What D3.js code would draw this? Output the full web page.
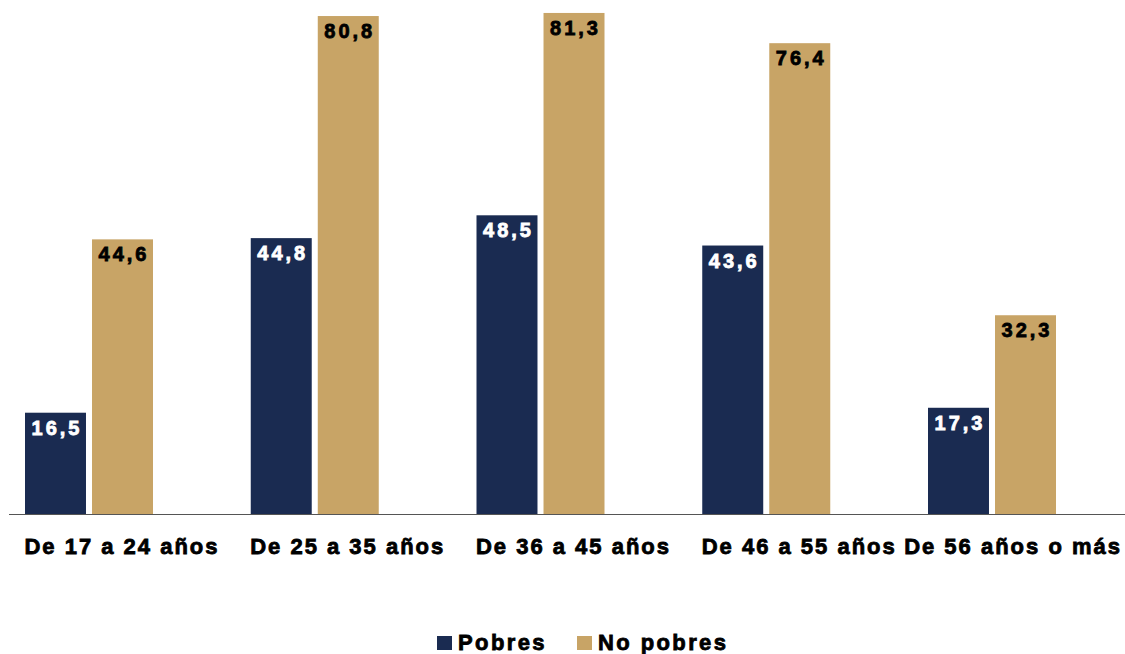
<!DOCTYPE html>
<html>
<head>
<meta charset="utf-8">
<script src="https://cdn.jsdelivr.net/npm/d3@7"></script>
<style>
  body { margin: 0; background: #fff; }
  text { font-family: "Liberation Sans", Arial, sans-serif; font-weight: bold; }
</style>
</head>
<body>
<div id="chart"></div>
<script>
const categories = ["De 17 a 24 años", "De 25 a 35 años", "De 36 a 45 años", "De 46 a 55 años", "De 56 años o más"];
const seriesNames = ["Pobres", "No pobres"];
const pobres = [16.5, 44.8, 48.5, 43.6, 17.3];
const noPobres = [44.6, 80.8, 81.3, 76.4, 32.3];
const colors = ["#1a2b51", "#c8a466"];
const labelColors = ["#fff", "#000"];

const width = 1125, height = 654;
const baseline = 514.5;

const svg = d3.select("#chart").append("svg")
  .attr("width", width)
  .attr("height", height);

const x0 = d3.scaleBand()
  .domain(categories)
  .range([25, 1056])
  .paddingInner(0.433)
  .paddingOuter(0);

const x1 = d3.scaleBand()
  .domain(seriesNames)
  .range([0, x0.bandwidth()])
  .paddingInner(0.09)
  .paddingOuter(0);

const y = d3.scaleLinear()
  .domain([0, 83.4])
  .range([baseline, 0]);

const rows = categories.map((c, i) => ({
  cat: c,
  vals: [
    {s: seriesNames[0], v: pobres[i], k: 0},
    {s: seriesNames[1], v: noPobres[i], k: 1}
  ]
}));

const groups = svg.append("g")
  .selectAll("g")
  .data(rows)
  .join("g")
  .attr("transform", d => `translate(${x0(d.cat)},0)`);

groups.selectAll("rect")
  .data(d => d.vals)
  .join("rect")
  .attr("x", d => x1(d.s))
  .attr("y", d => y(d.v))
  .attr("width", x1.bandwidth())
  .attr("height", d => baseline - y(d.v))
  .attr("fill", d => colors[d.k]);

// value labels, heavy face imitated with spacing + stroke
groups.selectAll("text.val")
  .data(d => d.vals)
  .join("text")
  .attr("class", "val")
  .attr("x", d => x1(d.s) + x1.bandwidth() / 2 + 1.5)
  .attr("y", d => y(d.v) + 22)
  .attr("text-anchor", "middle")
  .attr("font-size", 20)
  .attr("letter-spacing", 3)
  .attr("fill", d => labelColors[d.k])
  .attr("stroke", d => labelColors[d.k])
  .attr("stroke-width", 0.8)
  .text(d => d3.format(".1f")(d.v).replace(".", ","));

// axis line
svg.append("line")
  .attr("x1", 9).attr("x2", width)
  .attr("y1", baseline).attr("y2", baseline)
  .attr("stroke", "#555")
  .attr("stroke-width", 1.2);

// category labels
svg.append("g")
  .selectAll("text")
  .data(categories)
  .join("text")
  .attr("x", d => x0(d) + x0.bandwidth() / 2 + 33)
  .attr("y", 554)
  .attr("text-anchor", "middle")
  .attr("font-size", 22)
  .attr("letter-spacing", 2)
  .attr("fill", "#000")
  .attr("stroke", "#000")
  .attr("stroke-width", 0.8)
  .text(d => d)
  .each(function() {
    // keep the last label inside the page
    const bb = this.getBBox();
    const over = bb.x + bb.width - (width - 3);
    if (over > 0) d3.select(this).attr("x", +d3.select(this).attr("x") - over);
  });

// legend
const legendX = [437, 577];
const legend = svg.append("g")
  .selectAll("g")
  .data(seriesNames)
  .join("g")
  .attr("transform", (d, i) => `translate(${legendX[i]},636)`);

legend.append("rect")
  .attr("width", 15).attr("height", 14)
  .attr("fill", (d, i) => colors[i]);

legend.append("text")
  .attr("x", 21)
  .attr("y", 14)
  .attr("font-size", 22)
  .attr("letter-spacing", 2.4)
  .attr("fill", "#000")
  .attr("stroke", "#000")
  .attr("stroke-width", 0.8)
  .text(d => d);
</script>
</body>
</html>
